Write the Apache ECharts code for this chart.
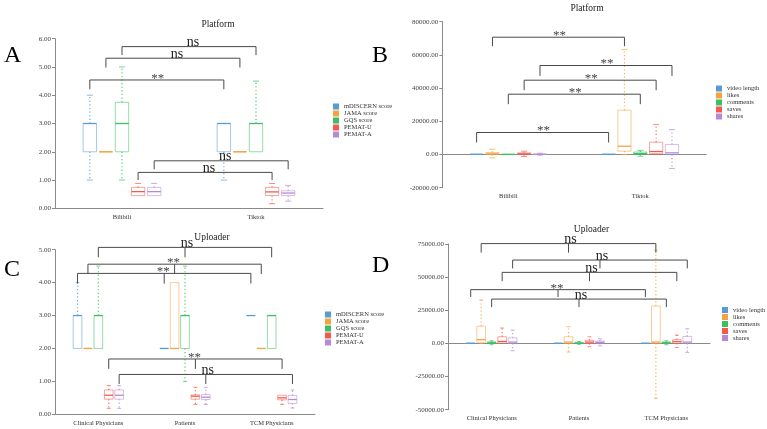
<!DOCTYPE html>
<html>
<head>
<meta charset="utf-8">
<script src="https://cdn.jsdelivr.net/npm/echarts@6/dist/echarts.min.js"></script>
<style>
html,body{margin:0;padding:0;background:#fff;}
#chart{width:767px;height:429px;}
</style>
</head>
<body>
<div id="chart"></div>
<script>
// ---------- categories & names ----------
const platformCats = ['Bilibili', 'Tiktok'];
const uploaderCats = ['Clinical Physicians', 'Patients', 'TCM Physicians'];
const scoreNames = ['mDISCERN score', 'JAMA score', 'GQS score', 'PEMAT-U', 'PEMAT-A'];
const engageNames = ['video length', 'likes', 'comments', 'saves', 'shares'];

// ---------- Panel A (Platform, scores): per category [min, Q1, median, Q3, max] ----------
const aMdiscern = [[1, 2, 3, 3, 4], [1, 2, 3, 3, 3]];
const aJama     = [[2, 2, 2, 2, 2], [2, 2, 2, 2, 2]];
const aGqs      = [[1, 2, 3, 3.75, 5], [2, 2, 3, 3, 4.5]];
const aPematU   = [[0.44, 0.45, 0.59, 0.74, 0.88], [0.16, 0.45, 0.58, 0.74, 0.88]];
const aPematA   = [[0.44, 0.45, 0.59, 0.74, 0.88], [0.25, 0.45, 0.54, 0.62, 0.81]];

// ---------- Panel B (Platform, engagement) ----------
const bVideo    = [[0, 0, 100, 200, 400], [0, 0, 100, 200, 400]];
const bLikes    = [[-2000, 0, 400, 1200, 3200], [0, 2000, 5000, 26700, 63300]];
const bComments = [[-200, 0, 50, 150, 400], [-1000, 0, 600, 1500, 2500]];
const bSaves    = [[-1200, 0, 400, 1000, 2000], [0, 500, 1800, 7400, 18000]];
const bShares   = [[-400, 0, 100, 300, 800], [-8400, 0, 1000, 6000, 15000]];

// ---------- Panel C (Uploader, scores) ----------
const cMdiscern = [[2, 2, 3, 3, 4], [2, 2, 2, 2, 2], [3, 3, 3, 3, 3]];
const cJama     = [[2, 2, 2, 2, 2], [2, 2, 2, 4, 4], [2, 2, 2, 2, 2]];
const cGqs      = [[2, 2, 3, 3, 4.5], [1, 2, 3, 3, 4.5], [2, 2, 3, 3, 3]];
const cPematU   = [[0.18, 0.46, 0.58, 0.74, 0.87], [0.3, 0.46, 0.55, 0.59, 0.82], [0.3, 0.44, 0.5, 0.58, 0.58]];
const cPematA   = [[0.18, 0.46, 0.58, 0.74, 0.87], [0.3, 0.45, 0.52, 0.6, 0.82], [0.19, 0.33, 0.45, 0.57, 0.74]];

// ---------- Panel D (Uploader, engagement) ----------
const dVideo    = [[0, 0, 100, 200, 400], [0, 0, 100, 200, 400], [0, 0, 100, 200, 400]];
const dLikes    = [[0, 500, 2800, 13000, 32700], [-6500, 0, 1000, 5000, 12600], [-41500, 0, 1000, 28200, 70500]];
const dComments = [[-1000, 0, 500, 1200, 2000], [-700, 0, 300, 800, 1500], [-1000, 0, 500, 1200, 2000]];
const dSaves    = [[0, 300, 1500, 5000, 11600], [-2500, 0, 1000, 2300, 5000], [-3000, 0, 1300, 2800, 6300]];
const dShares   = [[-5500, 0, 1000, 4200, 10000], [-1800, 0, 800, 1800, 3500], [-6800, 0, 1000, 5300, 11000]];

// ---------- significance brackets: [metric index, bar level, leg end, label] ----------
const bracketsA = [[2, 5.72, 5.42, 'ns'], [1, 5.31, 4.98, 'ns'], [0, 4.54, 4.21, '**'], [4, 1.68, 1.38, 'ns'], [3, 1.27, 1.0, 'ns']];
const bracketsB = [[1, 70660, 65240, '**'], [4, 53600, 47350, '**'], [3, 44760, 38730, '**'], [2, 36330, 30300, '**'], [0, 13250, 7230, '**']];
const bracketsC = [[2, 5.07, 4.77, 'ns'], [1, 4.56, 4.26, '**'], [0, 4.28, 3.97, '**'], [3, 1.68, 1.38, '**'], [4, 1.21, 0.92, 'ns']];
const bracketsD = [[1, 75300, 68500, 'ns'], [4, 62900, 56600, 'ns'], [3, 53600, 47000, 'ns'], [0, 40560, 35000, '**'], [2, 33460, 27400, 'ns']];

// ---------- styles ----------
const colors = ['#5b9bd5', '#f4a340', '#3cbf63', '#f25b4c', '#b48ad8'];
const FONT = 'Liberation Serif';
const SLOT = 0.12, BOXW = 0.1;

function boxRenderer(slot, color) {
  return function (params, api) {
    const cat = api.value(0);
    const band = api.size([1, 0])[0];
    const xc = api.coord([cat, api.value(3)])[0] + (slot - 2) * SLOT * band;
    const w = BOXW * band;
    const Y = i => api.coord([cat, api.value(i)])[1];
    const yMin = Y(1), yQ1 = Y(2), yMed = Y(3), yQ3 = Y(4), yMax = Y(5);
    const capW = w * 0.45;
    const ch = [];
    const dash = { stroke: color, lineWidth: 1.2, lineDash: [1.2, 2.4], opacity: 0.85 };
    const cap = { stroke: color, lineWidth: 1, opacity: 0.7 };
    if (yMax < yQ3 - 0.5) {
      ch.push({ type: 'line', shape: { x1: xc, y1: yQ3, x2: xc, y2: yMax }, style: dash });
      ch.push({ type: 'line', shape: { x1: xc - capW / 2, y1: yMax, x2: xc + capW / 2, y2: yMax }, style: cap });
    }
    if (yMin > yQ1 + 0.5) {
      ch.push({ type: 'line', shape: { x1: xc, y1: yQ1, x2: xc, y2: yMin }, style: dash });
      ch.push({ type: 'line', shape: { x1: xc - capW / 2, y1: yMin, x2: xc + capW / 2, y2: yMin }, style: cap });
    }
    ch.push({ type: 'rect', shape: { x: xc - w / 2, y: yQ3, width: w, height: yQ1 - yQ3 },
      style: { fill: 'rgba(255,255,255,0)', stroke: color, lineWidth: 1, opacity: 0.55 } });
    ch.push({ type: 'line', shape: { x1: xc - w / 2, y1: yMed, x2: xc + w / 2, y2: yMed },
      style: { stroke: color, lineWidth: 1.3 } });
    return { type: 'group', children: ch };
  };
}

function bracketRenderer(brackets, nCats) {
  return function (params, api) {
    const b = brackets[params.dataIndex];
    const slot = b[0], level = b[1], leg = b[2], label = b[3];
    const band = api.size([1, 0])[0];
    const xs = [];
    for (let c = 0; c < nCats; c++) xs.push(api.coord([c, level])[0] + (slot - 2) * SLOT * band);
    const yL = api.coord([0, level])[1];
    const yB = api.coord([0, leg])[1];
    const ls = { stroke: '#4a4a4a', lineWidth: 1 };
    const ch = [{ type: 'line', shape: { x1: xs[0], y1: yL, x2: xs[nCats - 1], y2: yL }, style: ls }];
    xs.forEach(x => ch.push({ type: 'line', shape: { x1: x, y1: yL, x2: x, y2: yB }, style: ls }));
    const xm = (xs[0] + xs[nCats - 1]) / 2 + (nCats === 2 ? 4 : 2);
    if (label === 'ns') {
      ch.push({ type: 'text', style: { text: 'ns', x: xm, y: yL + 3, align: 'center', verticalAlign: 'bottom',
        fontSize: 14, fontFamily: FONT, fill: '#222' } });
    } else {
      ch.push({ type: 'text', style: { text: '**', x: xm - 3, y: yL + 5, align: 'center', verticalAlign: 'bottom',
        fontSize: 13, fontFamily: FONT, fill: '#444' } });
    }
    return { type: 'group', children: ch };
  };
}

const grids = [
  { left: 55, top: 38.7, width: 268, height: 169.6 },
  { left: 442.3, top: 21.7, width: 264, height: 166 },
  { left: 55, top: 249.7, width: 260, height: 164.6 },
  { left: 448, top: 244, width: 262, height: 165.7 }
];

const axisLineStyle = { color: '#8a8a8a', width: 1 };
function xAx(i, cats) {
  return { type: 'category', gridIndex: i, data: cats,
    axisLine: { lineStyle: axisLineStyle }, axisTick: { alignWithLabel: true, length: 3, lineStyle: axisLineStyle },
    axisLabel: { interval: 0, fontSize: 6.5, fontFamily: FONT, color: '#333', margin: 5 } };
}
function yAx(i, min, max, interval) {
  return { type: 'value', gridIndex: i, min: min, max: max, interval: interval,
    axisLine: { show: true, lineStyle: axisLineStyle }, axisTick: { show: true, length: 3, lineStyle: axisLineStyle },
    splitLine: { show: false },
    axisLabel: { fontSize: 7, fontFamily: FONT, color: '#444', margin: 4, formatter: v => v.toFixed(2) } };
}

const panels = [
  { names: scoreNames, sets: [aMdiscern, aJama, aGqs, aPematU, aPematA], brackets: bracketsA, n: 2 },
  { names: engageNames, sets: [bVideo, bLikes, bComments, bSaves, bShares], brackets: bracketsB, n: 2 },
  { names: scoreNames, sets: [cMdiscern, cJama, cGqs, cPematU, cPematA], brackets: bracketsC, n: 3 },
  { names: engageNames, sets: [dVideo, dLikes, dComments, dSaves, dShares], brackets: bracketsD, n: 3 }
];

const series = [];
panels.forEach((p, gi) => {
  p.sets.forEach((set, si) => {
    series.push({
      type: 'custom', name: p.names[si], xAxisIndex: gi, yAxisIndex: gi, clip: false,
      itemStyle: { color: colors[si] },
      encode: { x: 0, y: [1, 2, 3, 4, 5] },
      data: set.map((v, ci) => [ci].concat(v)),
      renderItem: boxRenderer(si, colors[si]),
      silent: true
    });
  });
  series.push({
    type: 'custom', name: 'brackets' + gi, xAxisIndex: gi, yAxisIndex: gi, clip: false, silent: true,
    encode: { x: 0, y: [1, 2] },
    data: p.brackets.map(b => [0, b[1], b[2]]),
    renderItem: bracketRenderer(p.brackets, p.n)
  });
});

function legend(names, left, top) {
  return { data: names, orient: 'vertical', left: left, top: top, icon: 'rect', itemWidth: 6, itemHeight: 6,
    itemGap: 0, padding: 0, selectedMode: false,
    textStyle: { fontSize: 6.5, fontFamily: FONT, color: '#333', lineHeight: 7 } };
}

function txt(s, x, y, size, align, color) {
  return { type: 'text', x: x, y: y, silent: true,
    style: { text: s, fontSize: size, fontFamily: FONT, fill: color || '#222', align: align || 'center', verticalAlign: 'middle' } };
}

const option = {
  animation: false,
  backgroundColor: '#fff',
  grid: grids,
  xAxis: [xAx(0, platformCats), xAx(1, platformCats), xAx(2, uploaderCats), xAx(3, uploaderCats)],
  yAxis: [yAx(0, 0, 6, 1), yAx(1, -20000, 80000, 20000), yAx(2, 0, 5, 1), yAx(3, -50000, 75000, 25000)],
  legend: [legend(scoreNames, 333, 103), legend(engageNames, 716, 85), legend(scoreNames, 325, 311), legend(engageNames, 722, 306.5)],
  graphic: [
    txt('Platform', 218, 24, 9.5), txt('Platform', 587, 8, 9.5),
    txt('Uploader', 212, 237, 9.5), txt('Uploader', 591.5, 229, 9.5),
    txt('A', 4, 56, 24, 'left', '#000'), txt('B', 372, 56, 24, 'left', '#000'),
    txt('C', 4, 270, 24, 'left', '#000'), txt('D', 372, 266, 24, 'left', '#000')
  ],
  series: series
};

const chart = echarts.init(document.getElementById('chart'), null, { renderer: 'canvas' });
chart.setOption(option);
</script>
</body>
</html>
